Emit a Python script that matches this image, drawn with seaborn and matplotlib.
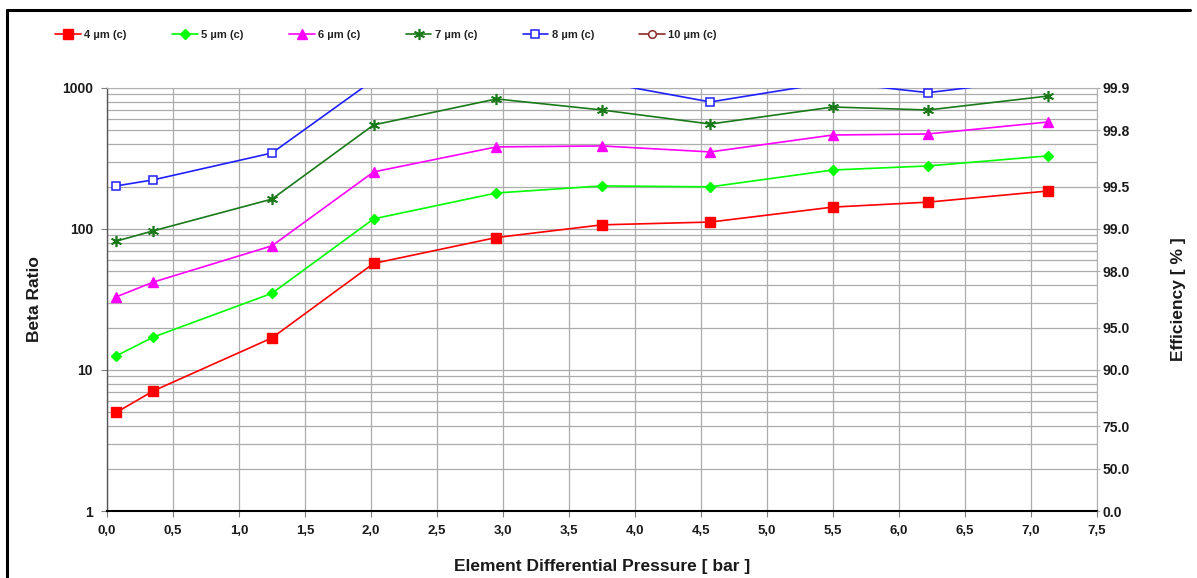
import numpy as np
import pandas as pd
import matplotlib
matplotlib.use("Agg")
import matplotlib.pyplot as plt
from matplotlib.lines import Line2D
import seaborn as sns

# ---- data ----
pressure = [0.07, 0.35, 1.25, 2.02, 2.95, 3.75, 4.57, 5.50, 6.22, 7.13]
beta_4um = [5.0, 7.1, 16.9, 57, 87, 107, 112, 143, 155, 186]
beta_5um = [12.6, 17.1, 35, 118, 180, 202, 199, 262, 280, 330]
beta_6um = [33, 42, 76, 254, 382, 388, 352, 464, 472, 574]
beta_7um = [82, 97, 163, 547, 836, 698, 555, 733, 698, 877]
beta_8um = [202, 223, 346, 1140, 1500, 1100, 796, 1100, 926, 1178]
beta_10um = [np.nan] * 10  # entirely above the plotted range

series_names = ["4 µm (c)", "5 µm (c)", "6 µm (c)", "7 µm (c)", "8 µm (c)", "10 µm (c)"]
series_values = [beta_4um, beta_5um, beta_6um, beta_7um, beta_8um, beta_10um]

eff_ticks_beta = [1000, 500, 200, 100, 50, 20, 10, 4, 2, 1]
eff_labels = ["99.9", "99.8", "99.5", "99.0", "98.0", "95.0", "90.0", "75.0", "50.0", "0.0"]
x_ticks = [0.0, 0.5, 1.0, 1.5, 2.0, 2.5, 3.0, 3.5, 4.0, 4.5, 5.0, 5.5, 6.0, 6.5, 7.0, 7.5]
y_ticks = [1, 10, 100, 1000]

# ---- styles ----
styles = [
    dict(color="#ff0000", marker="s", markersize=6.5, markerfacecolor="#ff0000", markeredgecolor="#ff0000"),
    dict(color="#00ff00", marker="D", markersize=5, markerfacecolor="#00ff00", markeredgecolor="#00ff00"),
    dict(color="#ff00ff", marker="^", markersize=7, markerfacecolor="#ff00ff", markeredgecolor="#ff00ff"),
    dict(color="#1a7a1a", marker=(6, 2, 0), markersize=8, markerfacecolor="#1a7a1a", markeredgecolor="#1a7a1a", markeredgewidth=1.2),
    dict(color="#2020ff", marker="s", markersize=6.2, markerfacecolor="white", markeredgecolor="#2020ff", markeredgewidth=1.1),
    dict(color="#8b2a2a", marker="o", markersize=5.5, markerfacecolor="white", markeredgecolor="#8b2a2a", markeredgewidth=1.1),
]

sns.set_style("white")
plt.rcParams["font.family"] = ["Liberation Sans", "DejaVu Sans"]

fig = plt.figure(figsize=(11.97, 5.78), dpi=100)
ax = fig.add_axes([0.0894, 0.1159, 0.8271, 0.7319])

for name, vals, st in zip(series_names, series_values, styles):
    df = pd.DataFrame({"x": pressure, "y": vals}).dropna()
    if len(df):
        sns.lineplot(data=df, x="x", y="y", ax=ax, color=st["color"], marker=st["marker"],
                     markersize=st["markersize"], markerfacecolor=st["markerfacecolor"],
                     markeredgecolor=st["markeredgecolor"],
                     markeredgewidth=st.get("markeredgewidth", 1.0),
                     linewidth=1.2, legend=False, estimator=None, sort=False, zorder=3)

ax.set_yscale("log")
ax.set_ylim(1, 1000)
ax.set_xlim(0, 7.5)
ax.set_xticks(x_ticks)
ax.set_xticklabels([f"{v:.1f}".replace(".", ",") for v in x_ticks], fontsize=9.5, fontweight="bold", color="#1a1a1a")
ax.set_yticks(y_ticks)
ax.set_yticklabels([str(v) for v in y_ticks], fontsize=10, fontweight="bold", color="#1a1a1a")
ax.yaxis.set_minor_locator(matplotlib.ticker.LogLocator(base=10, subs=np.arange(2, 10)))
ax.yaxis.set_minor_formatter(matplotlib.ticker.NullFormatter())

ax.grid(True, which="major", axis="both", color="#acacac", linewidth=0.9)
ax.grid(True, which="minor", axis="y", color="#acacac", linewidth=0.9)
ax.set_axisbelow(True)

ax.tick_params(axis="both", which="major", length=4, width=0.8, color="#808080", pad=6,
               left=True, bottom=True)
ax.tick_params(axis="y", which="minor", length=0)

ax.set_xlabel("Element Differential Pressure [ bar ]", fontsize=12.5, fontweight="bold", color="#1a1a1a", labelpad=16)
ax.set_ylabel("Beta Ratio", fontsize=12.5, fontweight="bold", color="#1a1a1a")
ax.yaxis.set_label_coords(-0.066, 0.5)

ax.spines["left"].set_color("#555555")
ax.spines["left"].set_linewidth(1.0)
ax.spines["bottom"].set_color("black")
ax.spines["bottom"].set_linewidth(1.5)
ax.spines["right"].set_color("#b0b0b0")
ax.spines["top"].set_color("#b0b0b0")

# right efficiency axis
ax2 = ax.twinx()
ax2.set_yscale("log")
ax2.set_ylim(1, 1000)
ax2.set_yticks(eff_ticks_beta)
ax2.set_yticklabels(eff_labels, fontsize=10, fontweight="bold", color="#1a1a1a")
ax2.yaxis.set_minor_locator(matplotlib.ticker.NullLocator())
ax2.tick_params(axis="y", length=2, color="#b0b0b0", pad=2)
ax2.grid(False)
ax2.set_ylabel("Efficiency [ % ]", fontsize=12.5, fontweight="bold", color="#1a1a1a")
ax2.yaxis.set_label_coords(1.075, 0.5)
for s in ax2.spines.values():
    s.set_visible(False)

# legend
handles = [Line2D([0], [0], linewidth=1.2, **st) for st in styles]
leg = fig.legend(handles, series_names, loc="upper left", bbox_to_anchor=(0.038, 0.965), ncol=6,
                 frameon=False, prop={"size": 8, "weight": "bold"}, handlelength=2.3,
                 handletextpad=0.3, columnspacing=4.1)
for t in leg.get_texts():
    t.set_color("#222222")

# figure frame (left and top edges)
fig.add_artist(Line2D([0.0058, 0.0058], [0.0, 0.983], transform=fig.transFigure, color="black", linewidth=2.2))
fig.add_artist(Line2D([0.0058, 0.994], [0.983, 0.983], transform=fig.transFigure, color="black", linewidth=2.2))

fig.savefig("out.png", dpi=100)
